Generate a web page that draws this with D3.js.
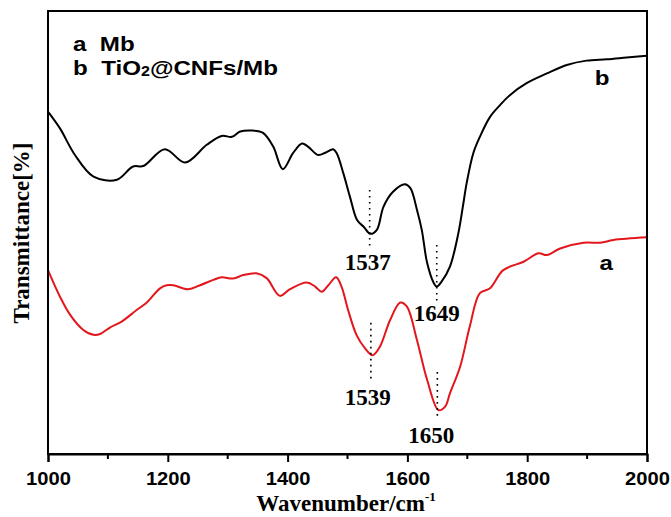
<!DOCTYPE html>
<html>
<head>
<meta charset="utf-8">
<script src="https://cdn.jsdelivr.net/npm/d3@7"></script>
<style>
  body { margin: 0; background: #fff; }
  svg { display: block; }
</style>
</head>
<body>
<svg id="chart"></svg>
<script>
// wavenumber (cm-1) and transmittance (arbitrary %)
var waveB = [1000,1020,1045,1076,1115,1142,1159,1195,1229,1265,1290,1307,1321,1342,1359,1376,1392,1409,1424,1434,1451,1463,1476,1482,1493,1504,1516,1527,1538,1549,1560,1576,1596,1605,1616,1624,1633,1644,1649,1657,1671,1685,1693,1699,1710,1721,1738,1755,1771,1799,1833,1866,1899,1933,1966,2000];
var transB = [77.3,73.5,67.5,62.6,61.9,64.9,65.0,68.8,65.8,69.8,71.8,71.6,72.8,73.0,72.5,69.4,64.3,67.9,70.1,69.4,67.5,68.0,68.8,67.9,63.4,58.1,52.8,51.3,49.7,50.6,55.8,59.2,60.9,60.0,55.1,50.6,43.1,38.6,37.8,38.9,42.3,49.8,56.2,61.2,67.9,71.6,76.1,78.8,81.0,83.7,85.9,87.8,88.8,89.1,89.5,89.9];

var waveA = [1000,1020,1037,1059,1076,1087,1104,1123,1148,1165,1187,1198,1209,1234,1254,1276,1290,1309,1326,1348,1365,1387,1404,1432,1446,1457,1468,1481,1490,1501,1515,1529,1542,1554,1571,1588,1599,1616,1633,1652,1663,1671,1688,1704,1721,1738,1760,1794,1819,1833,1855,1894,1922,1944,2000];
var transA = [41.5,35.5,31.4,28.0,26.9,27.1,28.6,29.9,32.5,34.2,37.4,38.1,38.1,37.2,38.1,39.3,39.9,39.6,40.4,40.8,39.7,35.7,37.2,38.7,37.8,36.6,38.1,39.9,37.8,32.5,26.9,23.9,22.3,24.2,30.2,34.2,33.3,25.7,16.7,9.9,10.7,13.7,19.7,28.7,36.3,37.4,41.5,43.4,45.3,44.9,46.4,47.7,47.7,48.3,48.9];

// peak markers: label, wavenumber of dotted line, its top and bottom, label position
var peakLabels = ["1537", "1649", "1539", "1650"];
var peakWave   = [1537, 1649, 1539, 1650];
var peakTop    = [59.6, 47.2, 29.6, 18.5];
var peakBottom = [46.5, 34.3, 16.3, 7.7];
var labelWave  = [1534, 1649, 1534, 1640];
var labelT     = [41.5, 30.0, 11.1, 2.5];

var xTicks = [1000, 1200, 1400, 1600, 1800, 2000];
var xMinor = [1100, 1300, 1500, 1700, 1900];

var width = 671, height = 517;
var margin = {left: 48, right: 24, top: 11, bottom: 63};

var svg = d3.select("#chart")
            .attr("width", width)
            .attr("height", height);

var x = d3.scaleLinear()
          .domain([1000, 2000])
          .range([margin.left, width - margin.right]);
var y = d3.scaleLinear()
          .domain([0, 100])
          .range([height - margin.bottom, margin.top]);

var line = d3.line()
             .x(function(d){ return x(d[0]); })
             .y(function(d){ return y(d[1]); })
             .curve(d3.curveCatmullRom.alpha(0.5));

var seriesA = waveA.map(function(w, i){ return [w, transA[i]]; });
var seriesB = waveB.map(function(w, i){ return [w, transB[i]]; });

svg.append("path")
   .datum(seriesB)
   .attr("d", line)
   .attr("fill", "none")
   .attr("stroke", "#000")
   .attr("stroke-width", 2);

svg.append("path")
   .datum(seriesA)
   .attr("d", line)
   .attr("fill", "none")
   .attr("stroke", "#e3161c")
   .attr("stroke-width", 2);

// dotted guides and peak numbers
peakWave.forEach(function(w, i){
  svg.append("line")
     .attr("x1", x(w)).attr("x2", x(w))
     .attr("y1", y(peakTop[i])).attr("y2", y(peakBottom[i]))
     .attr("stroke", "#000")
     .attr("stroke-width", 1.6)
     .attr("stroke-dasharray", "1.6,4.4");
  svg.append("text")
     .attr("x", x(labelWave[i]))
     .attr("y", y(labelT[i]))
     .attr("text-anchor", "middle")
     .attr("font-family", "'Liberation Serif', 'Times New Roman', serif")
     .attr("font-weight", "bold")
     .attr("font-size", "23px")
     .text(peakLabels[i]);
});

// frame
svg.append("rect")
   .attr("x", margin.left)
   .attr("y", margin.top)
   .attr("width", width - margin.right - margin.left)
   .attr("height", height - margin.bottom - margin.top)
   .attr("fill", "none")
   .attr("stroke", "#000")
   .attr("stroke-width", 2);

// x axis
var xAxis = svg.append("g")
               .attr("transform", "translate(0," + (height - margin.bottom) + ")")
               .call(d3.axisBottom(x).tickValues(xTicks).tickSize(8).tickFormat(d3.format("d")));
xAxis.select(".domain").attr("stroke-width", 2);
xAxis.selectAll(".tick line").attr("stroke-width", 2);
xAxis.selectAll(".tick text")
     .attr("y", 31)
     .attr("dy", 0)
     .attr("transform", "scale(1.12,1)")
     .attr("font-family", "'Liberation Sans', Arial, sans-serif")
     .attr("font-weight", "bold")
     .attr("font-size", "18px")
     .attr("fill", "#000");

svg.append("g")
   .selectAll("line")
   .data(xMinor)
   .enter()
   .append("line")
   .attr("x1", function(d){ return x(d); })
   .attr("x2", function(d){ return x(d); })
   .attr("y1", height - margin.bottom)
   .attr("y2", height - margin.bottom + 5)
   .attr("stroke", "#000")
   .attr("stroke-width", 2);

// axis titles
var xTitle = svg.append("text")
   .attr("x", 346)
   .attr("y", 511)
   .attr("text-anchor", "middle")
   .attr("font-family", "'Liberation Serif', 'Times New Roman', serif")
   .attr("font-weight", "bold")
   .attr("font-size", "23px");
xTitle.append("tspan").text("Wavenumber/cm");
xTitle.append("tspan").attr("dy", -10).attr("font-size", "13px").text("-1");

svg.append("text")
   .attr("transform", "translate(29,233) rotate(-90)")
   .attr("text-anchor", "middle")
   .attr("font-family", "'Liberation Serif', 'Times New Roman', serif")
   .attr("font-weight", "bold")
   .attr("font-size", "23px")
   .text("Transmittance[%]");

// legend
var legendFont = "'Liberation Sans', Arial, sans-serif";
svg.append("text")
   .attr("transform", "translate(73,51) scale(1.15,1)")
   .attr("font-family", legendFont)
   .attr("font-weight", "bold")
   .attr("font-size", "21px")
   .attr("xml:space", "preserve")
   .text("a  Mb");

var leg2 = svg.append("text")
   .attr("transform", "translate(73,75) scale(1.15,1)")
   .attr("font-family", legendFont)
   .attr("font-weight", "bold")
   .attr("font-size", "21px")
   .attr("xml:space", "preserve");
leg2.append("tspan").text("b  TiO");
leg2.append("tspan").attr("font-size", "14px").attr("dy", 1).text("2");
leg2.append("tspan").attr("dy", -1).text("@CNFs/Mb");

// curve labels
svg.append("text")
   .attr("transform", "translate(" + x(1925) + ",85) scale(1.15,1)")
   .attr("text-anchor", "middle")
   .attr("font-family", legendFont)
   .attr("font-weight", "bold")
   .attr("font-size", "21px")
   .text("b");
svg.append("text")
   .attr("transform", "translate(" + x(1932) + ",270) scale(1.15,1)")
   .attr("text-anchor", "middle")
   .attr("font-family", legendFont)
   .attr("font-weight", "bold")
   .attr("font-size", "21px")
   .text("a");
</script>
</body>
</html>
